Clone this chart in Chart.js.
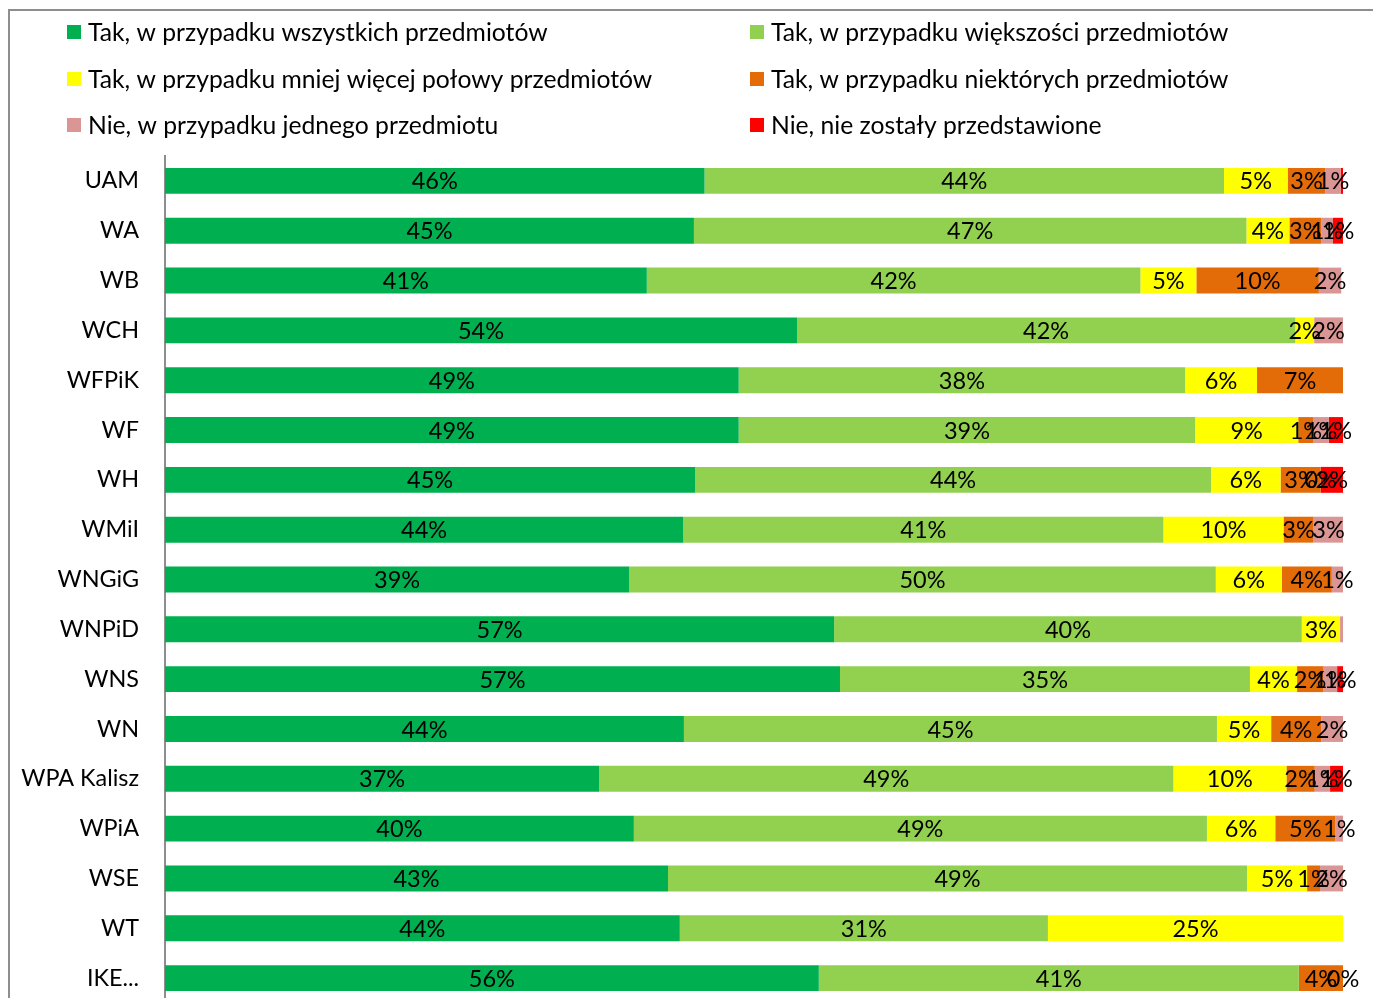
<!DOCTYPE html>
<html>
<head>
<meta charset="utf-8">
<script src="https://cdn.jsdelivr.net/npm/chart.js@4/dist/chart.umd.min.js"></script>
<style>
  html, body { margin: 0; padding: 0; background: #fff; overflow: hidden; }
  #wrap { position: absolute; left: 0; top: 0; width: 1373px; height: 1010px; }
  #frame { position: absolute; left: 8px; top: 9px; width: 2000px; height: 2000px;
           border-left: 2px solid #8e8e8e; border-top: 2px solid #8e8e8e; pointer-events: none; }
</style>
</head>
<body>
<div id="wrap"><canvas id="c"></canvas></div>
<div id="frame"></div>
<script>
const categories = ['UAM','WA','WB','WCH','WFPiK','WF','WH','WMiI','WNGiG','WNPiD','WNS','WN','WPA Kalisz','WPiA','WSE','WT','IKE...'];

const seriesNames = [
  'Tak, w przypadku wszystkich przedmiotów',
  'Tak, w przypadku większości przedmiotów',
  'Tak, w przypadku mniej więcej połowy przedmiotów',
  'Tak, w przypadku niektórych przedmiotów',
  'Nie, w przypadku jednego przedmiotu',
  'Nie, nie zostały przedstawione'
];

const seriesColors = ['#00B050','#92D050','#FFFF00','#E36C09','#D99694','#FF0000'];

// null = no segment / no label; 0 = zero-width segment with a "0%" label
const allSubjects      = [45.8, 44.9, 40.9, 53.65, 48.7, 48.7, 45.0, 44.0, 39.4, 56.8, 57.3, 44.05, 36.85, 39.8, 42.7, 43.7, 55.5];
const mostSubjects     = [44.1, 46.9, 41.9, 42.3, 37.9, 38.75, 43.8, 40.75, 49.8, 39.7, 34.8, 45.25, 48.75, 48.65, 49.15, 31.25, 40.75];
const halfSubjects     = [5.4, 3.65, 4.75, 1.6, 6.1, 8.75, 5.9, 10.2, 5.6, 3.25, 4.0, 4.6, 9.6, 5.8, 5.1, 25.05, null];
const someSubjects     = [3.2, 2.7, 10.4, null, 7.3, 1.3, 3.4, 2.55, 4.25, null, 2.2, 4.25, 2.4, 5.1, 1.1, null, 3.75];
const oneSubject       = [1.3, 1.0, 1.9, 2.45, null, 1.3, 0, 2.55, 0.95, 0.25, 1.2, 1.85, 1.3, 0.7, 1.95, null, 0];
const notPresented     = [0.2, 0.85, null, null, null, 1.2, 1.9, null, null, null, 0.55, null, 1.1, null, null, null, null];

const seriesValues = [allSubjects, mostSubjects, halfSubjects, someSubjects, oneSubject, notPresented];

const FONT = 'Lato, "Open Sans", sans-serif';

const valueLabels = {
  id: 'valueLabels',
  afterDatasetsDraw(chart) {
    const ctx = chart.ctx;
    ctx.save();
    ctx.font = '23.5px ' + FONT;
    ctx.fillStyle = '#000';
    ctx.textAlign = 'center';
    ctx.textBaseline = 'middle';
    chart.data.datasets.forEach((ds, di) => {
      const meta = chart.getDatasetMeta(di);
      meta.data.forEach((el, i) => {
        const v = ds.data[i];
        if (v === null || v === undefined) return;
        if (v !== 0 && v < 0.28) return;
        if (!isFinite(el.x) || !isFinite(el.base)) return;
        const cx = (el.x + el.base) / 2;
        ctx.fillText(Math.round(v) + '%', cx, el.y + 1);
      });
    });
    ctx.restore();
  }
};

const gridLegend = {
  id: 'gridLegend',
  afterDraw(chart) {
    const ctx = chart.ctx;
    const colX = [67, 750];
    const rowY = [32, 79, 125];
    ctx.save();
    ctx.font = '24.7px ' + FONT;
    ctx.textBaseline = 'middle';
    ctx.textAlign = 'left';
    chart.data.datasets.forEach((ds, i) => {
      const x = colX[i % 2];
      const y = rowY[Math.floor(i / 2)];
      ctx.fillStyle = ds.backgroundColor;
      ctx.fillRect(x, y - 7, 14, 14);
      ctx.fillStyle = '#000';
      ctx.fillText(ds.label, x + 21, y + 1);
    });
    ctx.restore();
  }
};

new Chart(document.getElementById('c'), {
  type: 'bar',
  data: {
    labels: categories,
    datasets: seriesValues.map((vals, i) => ({
      label: seriesNames[i],
      data: vals,
      backgroundColor: seriesColors[i],
      borderWidth: 0,
      barPercentage: 0.52,
      categoryPercentage: 1.0
    }))
  },
  options: {
    indexAxis: 'y',
    responsive: true,
    maintainAspectRatio: false,
    animation: false,
    layout: { padding: { top: 156, right: 30, bottom: 7, left: 0 } },
    plugins: {
      legend: { display: false },
      tooltip: { enabled: false }
    },
    scales: {
      x: { stacked: true, min: 0, max: 100, display: false },
      y: {
        stacked: true,
        afterFit(scale) {
          scale.width = 165;
          scale.paddingTop = 0;
          scale.paddingBottom = 0;
        },
        grid: { display: false, drawTicks: false },
        border: { display: true, color: '#8e8e8e', width: 2 },
        ticks: { color: '#000', font: { family: FONT, size: 23.4 }, padding: 26 }
      }
    }
  },
  plugins: [valueLabels, gridLegend]
});
</script>
</body>
</html>
